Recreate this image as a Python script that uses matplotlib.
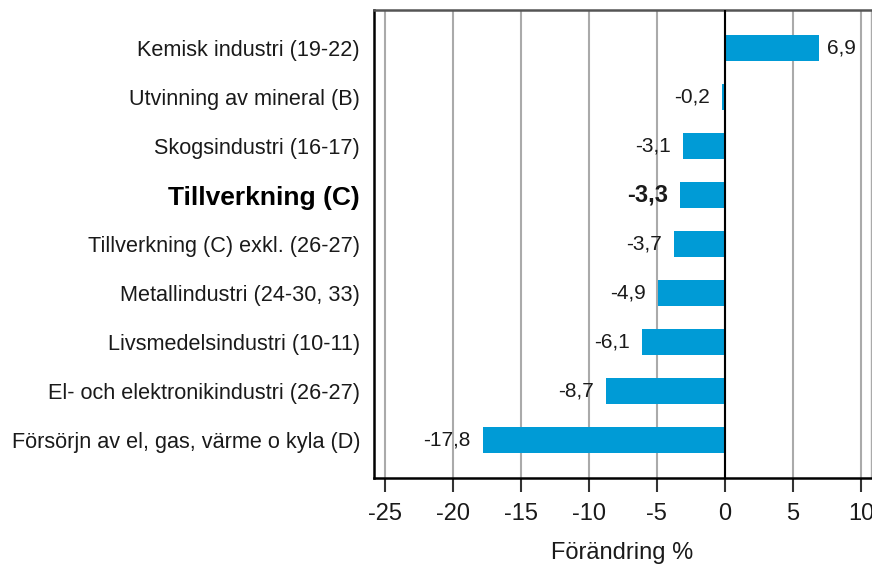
import matplotlib.pyplot as plt

plt.rcParams['font.family'] = ['Liberation Sans', 'DejaVu Sans']

categories = ['Kemisk industri (19-22)', 'Utvinning av mineral (B)', 'Skogsindustri (16-17)',
              'Tillverkning (C)', 'Tillverkning (C) exkl. (26-27)', 'Metallindustri (24-30, 33)',
              'Livsmedelsindustri (10-11)', 'El- och elektronikindustri (26-27)',
              'Försörjn av el, gas, värme o kyla (D)']
values = [6.9, -0.2, -3.1, -3.3, -3.7, -4.9, -6.1, -8.7, -17.8]
highlight = 'Tillverkning (C)'
xticks = [-25, -20, -15, -10, -5, 0, 5, 10]

bar_color = '#009bd6'

fig = plt.figure(figsize=(8.72, 5.67), dpi=100)
ax = fig.add_axes([374 / 872, 89 / 567, 497 / 872, 468 / 567])

ypos = list(range(len(categories)))
ax.barh(ypos, values, height=0.52, color=bar_color, zorder=3)
ax.axvline(0, color='black', lw=1.5, zorder=4)

# value labels, comma as decimal sign
for y, v, c in zip(ypos, values, categories):
    txt = f'{v:.1f}'.replace('.', ',')
    bold = c == highlight
    if v >= 0:
        ax.text(v + 0.6, y, txt, va='center', ha='left', fontsize=15, color='#1a1a1a')
    else:
        ax.text(v - 0.9, y, txt, va='center', ha='right',
                fontsize=17 if bold else 15, fontweight='bold' if bold else 'normal',
                color='#1a1a1a')

ax.set_xlim(-25.78, 10.74)
ax.set_ylim(len(categories) - 1 + 0.776, -0.776)
ax.set_yticks(ypos)
ax.set_yticklabels(categories, fontsize=15.6, color='#1a1a1a')
for lab in ax.get_yticklabels():
    if lab.get_text() == highlight:
        lab.set_fontweight('bold')
        lab.set_fontsize(19)
        lab.set_color('black')
ax.tick_params(axis='y', length=0, pad=10)

ax.set_xticks(xticks)
ax.set_xticklabels([str(t) for t in xticks], fontsize=17, color='#1a1a1a')
ax.tick_params(axis='x', length=10, width=1.5, direction='out', pad=8, color='#333333')
ax.set_xlabel('Förändring %', fontsize=17, color='#1a1a1a', labelpad=12)

ax.grid(axis='x', color='#aaaaaa', lw=1.5, zorder=0)
ax.set_axisbelow(True)
for side in ['left', 'bottom']:
    ax.spines[side].set_color('black')
    ax.spines[side].set_linewidth(1.8)
ax.spines['top'].set_color('#555555')
ax.spines['top'].set_linewidth(1.8)
ax.spines['right'].set_color('#aaaaaa')
ax.spines['right'].set_linewidth(1)

fig.savefig('out.png', dpi=100)
